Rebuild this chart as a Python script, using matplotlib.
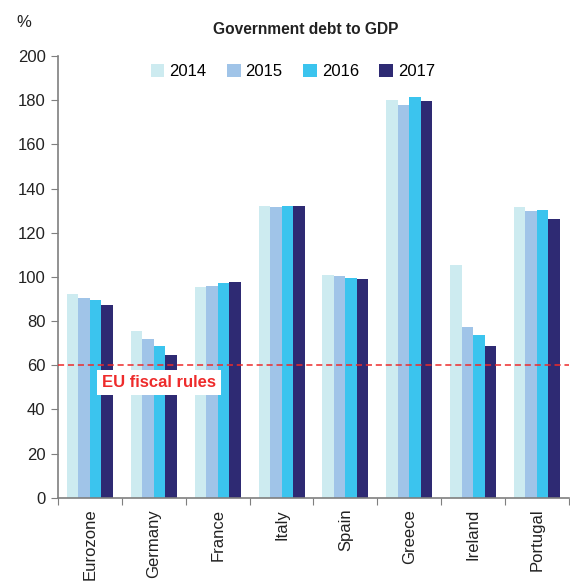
import numpy as np
import matplotlib
matplotlib.use("Agg")
import matplotlib.pyplot as plt

plt.rcParams['font.family'] = ['Liberation Sans', 'DejaVu Sans']

# data
countries = ['Eurozone', 'Germany', 'France', 'Italy', 'Spain', 'Greece', 'Ireland', 'Portugal']
years = ['2014', '2015', '2016', '2017']
debt_2014 = [92.1, 75.3, 95.3, 132.2, 100.8, 179.9, 105.3, 131.5]
debt_2015 = [90.3, 71.7, 95.8, 131.8, 100.3, 177.6, 77.1, 129.8]
debt_2016 = [89.4, 68.5, 97.0, 132.3, 99.4, 181.3, 73.5, 130.1]
debt_2017 = [87.1, 64.5, 97.6, 132.2, 98.9, 179.8, 68.5, 126.2]
eu_limit = 60

colours = ['#CDEBF0', '#A0C4E8', '#3BC4EE', '#2E2A73']
grey = '#7F7F7F'

fig = plt.figure(figsize=(5.7, 5.86), dpi=100)
ax = fig.add_axes([0.1018, 0.1507, 0.8962, 0.7537])

x = np.arange(len(countries))
w = 0.18
series = [debt_2014, debt_2015, debt_2016, debt_2017]
for i, (vals, yr) in enumerate(zip(series, years)):
    ax.bar(x + (i - 1.5) * w, vals, width=w, color=colours[i], label=yr, zorder=2)

ax.axhline(eu_limit, color='#EE2B2B', linestyle=(0, (4, 2.5)), linewidth=1.1, zorder=3)
ax.text(0.19, 52.3, 'EU fiscal rules', color='#EE2B2B', fontsize=12, fontweight='bold',
        va='center', ha='left', zorder=4,
        bbox=dict(facecolor='white', edgecolor='none', pad=3.5))

ax.set_xlim(-0.5, len(countries) - 0.5)
ax.set_ylim(0, 200)
ax.set_yticks(np.arange(0, 201, 20))
ax.tick_params(axis='y', labelsize=12, length=5, color=grey, labelcolor='#222222', pad=4)

# category boundaries as ticks, names as minor labels
ax.set_xticks(np.arange(len(countries) + 1) - 0.5)
ax.set_xticklabels([])
ax.set_xticks(x, minor=True)
ax.set_xticklabels(countries, minor=True, rotation=90, fontsize=12, color='#222222')
ax.tick_params(axis='x', which='major', length=5, color=grey, direction='out')
ax.tick_params(axis='x', which='minor', length=0, pad=8)

for s in ['top', 'right']:
    ax.spines[s].set_visible(False)
for s in ['left', 'bottom']:
    ax.spines[s].set_color(grey)
    ax.spines[s].set_linewidth(1.2)

fig.text(0.537, 0.949, 'Government debt to GDP', ha='center', va='center',
         fontsize=11.2, fontweight='bold', color='#222222')
fig.text(0.042, 0.961, '%', ha='center', va='center', fontsize=12, color='#222222')

leg = ax.legend(loc='upper center', bbox_to_anchor=(0.46, 1.016), ncol=4, frameon=False,
                fontsize=12, handlelength=0.8, handleheight=0.8, handletextpad=0.3,
                columnspacing=1.24)

fig.savefig('out.png', dpi=100)
